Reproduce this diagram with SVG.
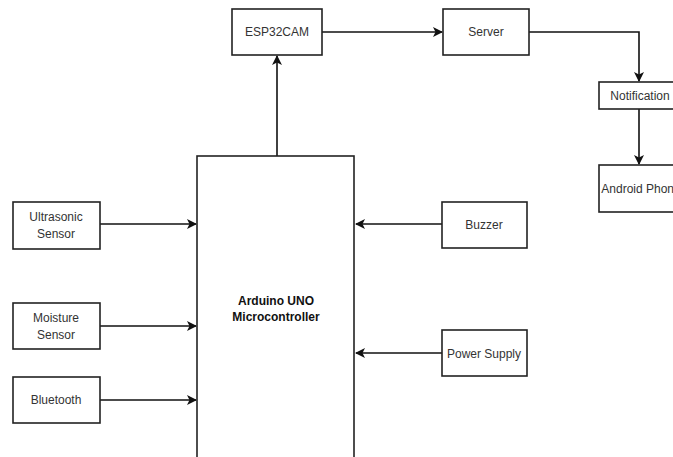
<svg xmlns="http://www.w3.org/2000/svg" width="673" height="457" viewBox="0 0 673 457">
<style>
.box{fill:#fff;stroke:#222;stroke-width:1.6}
.t{font-family:"Liberation Sans",Arial,sans-serif;font-size:12px;fill:#333;text-anchor:middle}
.b{font-weight:bold;fill:#111}
.c{fill:none;stroke:#111;stroke-width:1.6}
</style>
<defs>
<marker id="ah" viewBox="0 0 10 10" refX="9" refY="5" markerWidth="10" markerHeight="10" markerUnits="userSpaceOnUse" orient="auto">
<path d="M0,0 L10,5 L0,10 L2.5,5 Z" fill="#111"/>
</marker>
</defs>
<rect width="673" height="457" fill="#fff"/>
<g id="connectors">
<path class="c" d="M277,156 V56" marker-end="url(#ah)"/>
<path class="c" d="M322,32 H442" marker-end="url(#ah)"/>
<path class="c" d="M529,32 H639 V81" marker-end="url(#ah)"/>
<path class="c" d="M639,109 V164" marker-end="url(#ah)"/>
<path class="c" d="M100,224 H196" marker-end="url(#ah)"/>
<path class="c" d="M100,326 H196" marker-end="url(#ah)"/>
<path class="c" d="M100,400 H196" marker-end="url(#ah)"/>
<path class="c" d="M442,224 H356" marker-end="url(#ah)"/>
<path class="c" d="M442,353 H356" marker-end="url(#ah)"/>
</g>
<g id="main">
<rect class="box" x="197" y="156" width="157" height="310"/>
<text class="t b" x="276" y="305">Arduino UNO</text>
<text class="t b" x="276" y="321">Microcontroller</text>
</g>
<g id="esp32cam">
<rect class="box" x="232" y="9" width="90" height="46"/>
<text class="t" x="277" y="36">ESP32CAM</text>
</g>
<g id="server">
<rect class="box" x="443" y="9" width="86" height="46"/>
<text class="t" x="486" y="36">Server</text>
</g>
<g id="notification">
<rect class="box" x="599" y="82" width="86" height="27"/>
<text class="t" x="640" y="100">Notification</text>
</g>
<g id="android">
<rect class="box" x="599" y="165" width="86" height="47"/>
<text class="t" x="641" y="193">Android Phone</text>
</g>
<g id="ultrasonic">
<rect class="box" x="13" y="202" width="87" height="47"/>
<text class="t" x="56" y="221">Ultrasonic</text>
<text class="t" x="56" y="238">Sensor</text>
</g>
<g id="moisture">
<rect class="box" x="13" y="303" width="87" height="46"/>
<text class="t" x="56" y="322">Moisture</text>
<text class="t" x="56" y="339">Sensor</text>
</g>
<g id="bluetooth">
<rect class="box" x="13" y="377" width="87" height="46"/>
<text class="t" x="56" y="404">Bluetooth</text>
</g>
<g id="buzzer">
<rect class="box" x="442" y="202" width="85" height="46"/>
<text class="t" x="484" y="229">Buzzer</text>
</g>
<g id="power">
<rect class="box" x="442" y="330" width="85" height="46"/>
<text class="t" x="484" y="358">Power Supply</text>
</g>
</svg>
